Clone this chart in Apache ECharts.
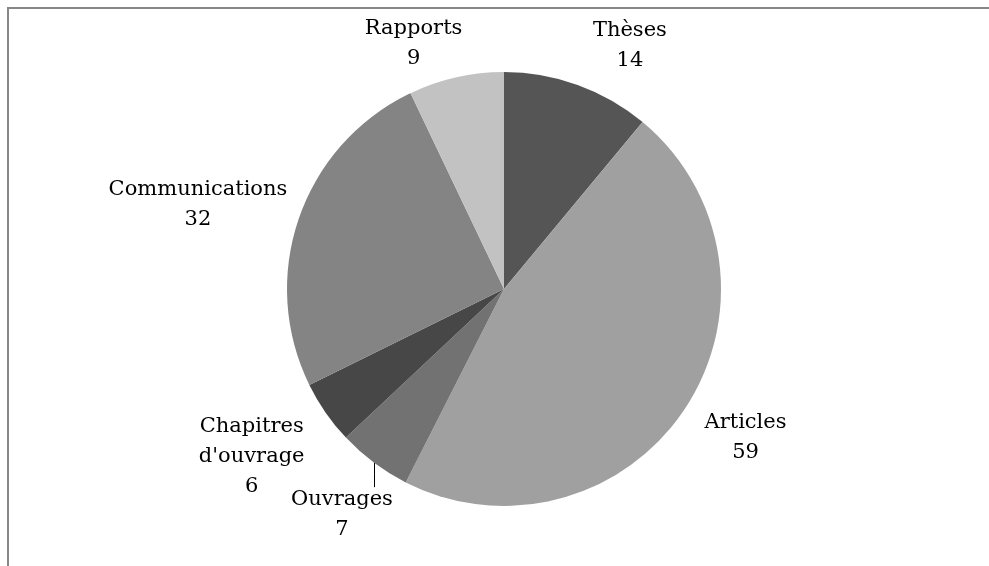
<!DOCTYPE html>
<html>
<head>
<meta charset="utf-8">
<script src="https://cdn.jsdelivr.net/npm/echarts@6/dist/echarts.min.js"></script>
<style>
html,body{margin:0;padding:0;background:#fff;}
#frame{position:absolute;left:7px;top:7px;width:1000px;height:600px;border-left:2px solid #878787;border-top:2px solid #878787;}
#chart{position:absolute;left:0;top:0;width:989px;height:566px;}
</style>
</head>
<body>
<div id="frame"></div>
<div id="chart"></div>
<script>
const categories = ['Thèses', 'Articles', 'Ouvrages', "Chapitres\nd'ouvrage", 'Communications', 'Rapports'];
const values = [14, 59, 7, 6, 32, 9];
const colors = ['#555555', '#a0a0a0', '#727272', '#474747', '#848484', '#c2c2c2'];
// label placement tuning (line length / second segment) per slice
const lineLen = [42, 54, 65, 78, 42, 35];
const lineLen2 = [1, -26, -58, -43, -28, -14];
const showLeader = [false, false, true, false, false, false];

const chart = echarts.init(document.getElementById('chart'));
const data = categories.map((c, i) => ({
  name: c,
  value: values[i],
  itemStyle: { color: colors[i] },
  labelLine: { show: showLeader[i], length: lineLen[i], length2: lineLen2[i], lineStyle: { color: '#000', width: 1 } }
}));
chart.setOption({
  animation: false,
  series: [{
    type: 'pie',
    center: [504, 289],
    radius: 217,
    startAngle: 90,
    clockwise: true,
    avoidLabelOverlap: false,
    itemStyle: { borderWidth: 0 },
    label: {
      show: true,
      position: 'outside',
      distanceToLabelLine: 0,
      formatter: function (p) {
        return p.name.split('\n').map(s => '{a|' + s + '}').join('\n') + '\n{a|' + p.value + '}';
      },
      rich: {
        a: { fontFamily: 'DejaVu Serif', fontSize: 21, lineHeight: 30, color: '#000', align: 'center' }
      }
    },
    labelLayout: function (params) {
      if (showLeader[params.dataIndex]) {
        const p0 = params.labelLinePoints[0];
        const top = params.labelRect.y - 2;
        const x = Math.round(p0[0]) + 0.5;
        return { labelLinePoints: [[x, p0[1]], [x, (p0[1] + top) / 2], [x, top]] };
      }
    },
    data: data
  }]
});
</script>
</body>
</html>
